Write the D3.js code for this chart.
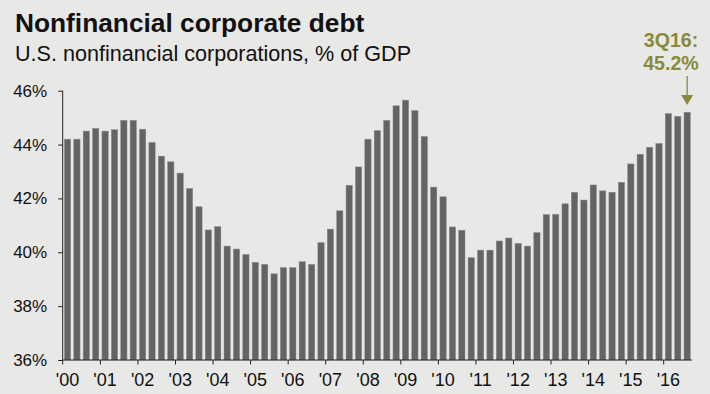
<!DOCTYPE html>
<html lang="en">
<head>
<meta charset="UTF-8">
<title>Nonfinancial corporate debt</title>
<script src="https://cdn.jsdelivr.net/npm/d3@7"></script>
<style>
    body { margin: 0; background: #e8e8e7; }
    svg { display: block; font-family: "Liberation Sans", Arial, sans-serif; }
</style>
</head>
<body>
<div id="chart"></div>
<script>
// quarterly, 1Q00 .. 3Q16
var years = ["'00", "'01", "'02", "'03", "'04", "'05", "'06", "'07", "'08",
             "'09", "'10", "'11", "'12", "'13", "'14", "'15", "'16"];
var debtPct = [
    44.2, 44.2, 44.5, 44.6,   // 2000
    44.5, 44.55, 44.9, 44.9,  // 2001
    44.57, 44.08, 43.57, 43.36, // 2002
    42.94, 42.37, 41.69, 40.83, // 2003
    40.95, 40.23, 40.12, 39.92, // 2004
    39.63, 39.55, 39.2, 39.43,  // 2005
    39.43, 39.65, 39.55, 40.36, // 2006
    40.86, 41.54, 42.49, 43.17, // 2007
    44.2, 44.52, 44.9, 45.44,   // 2008
    45.65, 45.26, 44.3, 42.42,  // 2009
    42.06, 40.94, 40.82, 39.8,  // 2010
    40.08, 40.08, 40.42, 40.53, // 2011
    40.33, 40.23, 40.73, 41.4,  // 2012
    41.41, 41.8, 42.23, 41.94,  // 2013
    42.5, 42.28, 42.23, 42.6,   // 2014
    43.28, 43.64, 43.9, 44.04,  // 2015
    45.15, 45.05, 45.2          // 2016
];
var yTicks = [36, 38, 40, 42, 44, 46];
var calloutLines = ["3Q16:", "45.2%"];

var width = 710, height = 394;
var plotLeft = 62.7, plotRight = 692, plotTop = 90.7, plotBottom = 360;

var quarters = debtPct.map(function(d, i) { return i; });

var x = d3.scaleBand()
    .domain(quarters)
    .range([plotLeft, plotRight])
    .paddingInner(0.33)
    .paddingOuter(0.18);

var y = d3.scaleLinear()
    .domain([36, 46])
    .range([plotBottom, plotTop]);

var svg = d3.select("#chart").append("svg")
    .attr("width", width)
    .attr("height", height);

svg.append("rect")
    .attr("width", width)
    .attr("height", height)
    .attr("fill", "#e8e8e7");

// titles
svg.append("text")
    .attr("x", 15).attr("y", 32)
    .attr("font-size", "26.3px")
    .attr("font-weight", "bold")
    .attr("fill", "#111")
    .text("Nonfinancial corporate debt");
svg.append("text")
    .attr("x", 15).attr("y", 61)
    .attr("font-size", "21.6px")
    .attr("fill", "#111")
    .text("U.S. nonfinancial corporations, % of GDP");

// bars
svg.selectAll(".bar")
    .data(debtPct)
    .enter()
    .append("rect")
    .attr("class", "bar")
    .attr("x", function(d, i) { return x(i); })
    .attr("y", function(d) { return y(d); })
    .attr("width", x.bandwidth())
    .attr("height", function(d) { return y(36) - y(d); })
    .attr("fill", "#646464")
    .attr("stroke", "#8c8c8c")
    .attr("stroke-width", 0.5);

// y axis
var yAxis = d3.axisLeft(y)
    .tickValues(yTicks)
    .tickSize(4.5)
    .tickPadding(11)
    .tickFormat(function(d) { return d + "%"; });
var gy = svg.append("g")
    .attr("transform", "translate(" + plotLeft + ",0)")
    .call(yAxis);
gy.select(".domain").attr("stroke", "#222").attr("d", "M0," + plotTop + "V" + plotBottom);
gy.selectAll(".tick line").attr("stroke", "#222");
gy.selectAll(".tick text")
    .attr("font-size", "17px")
    .attr("font-family", "Liberation Sans, Arial, sans-serif")
    .attr("fill", "#111");

// x axis: ticks at the year boundaries, labels under the first quarter
var gap = x.step() * x.paddingInner() / 2;
var xAxisG = svg.append("g");
xAxisG.append("line")
    .attr("x1", plotLeft).attr("x2", plotRight)
    .attr("y1", plotBottom).attr("y2", plotBottom)
    .attr("stroke", "#222");
var yearG = xAxisG.selectAll(".year")
    .data(years)
    .enter()
    .append("g")
    .attr("class", "year");
yearG.append("line")
    .attr("x1", function(d, i) { return i === 0 ? plotLeft : x(i * 4) - gap; })
    .attr("x2", function(d, i) { return i === 0 ? plotLeft : x(i * 4) - gap; })
    .attr("y1", plotBottom)
    .attr("y2", plotBottom + 4.5)
    .attr("stroke", "#222");
yearG.append("text")
    .attr("x", function(d, i) { return x(i * 4) + x.bandwidth() / 2; })
    .attr("y", 386)
    .attr("text-anchor", "middle")
    .attr("font-size", "18px")
    .attr("fill", "#111")
    .text(function(d) { return d; });

// callout on the last quarter
var lastX = x(debtPct.length - 1) + x.bandwidth() / 2;
var olive = "#8b8a3b";
svg.selectAll(".callout")
    .data(calloutLines)
    .enter()
    .append("text")
    .attr("class", "callout")
    .attr("x", 671)
    .attr("y", function(d, i) { return 47 + i * 23; })
    .attr("text-anchor", "middle")
    .attr("font-size", "19.6px")
    .attr("font-weight", "bold")
    .attr("fill", olive)
    .text(function(d) { return d; });
svg.append("line")
    .attr("x1", lastX).attr("x2", lastX)
    .attr("y1", 76).attr("y2", 96)
    .attr("stroke", olive)
    .attr("stroke-width", 1.3);
svg.append("path")
    .attr("d", "M" + (lastX - 6) + ",95L" + (lastX + 6) + ",95L" + lastX + ",105Z")
    .attr("fill", olive);
</script>
</body>
</html>
